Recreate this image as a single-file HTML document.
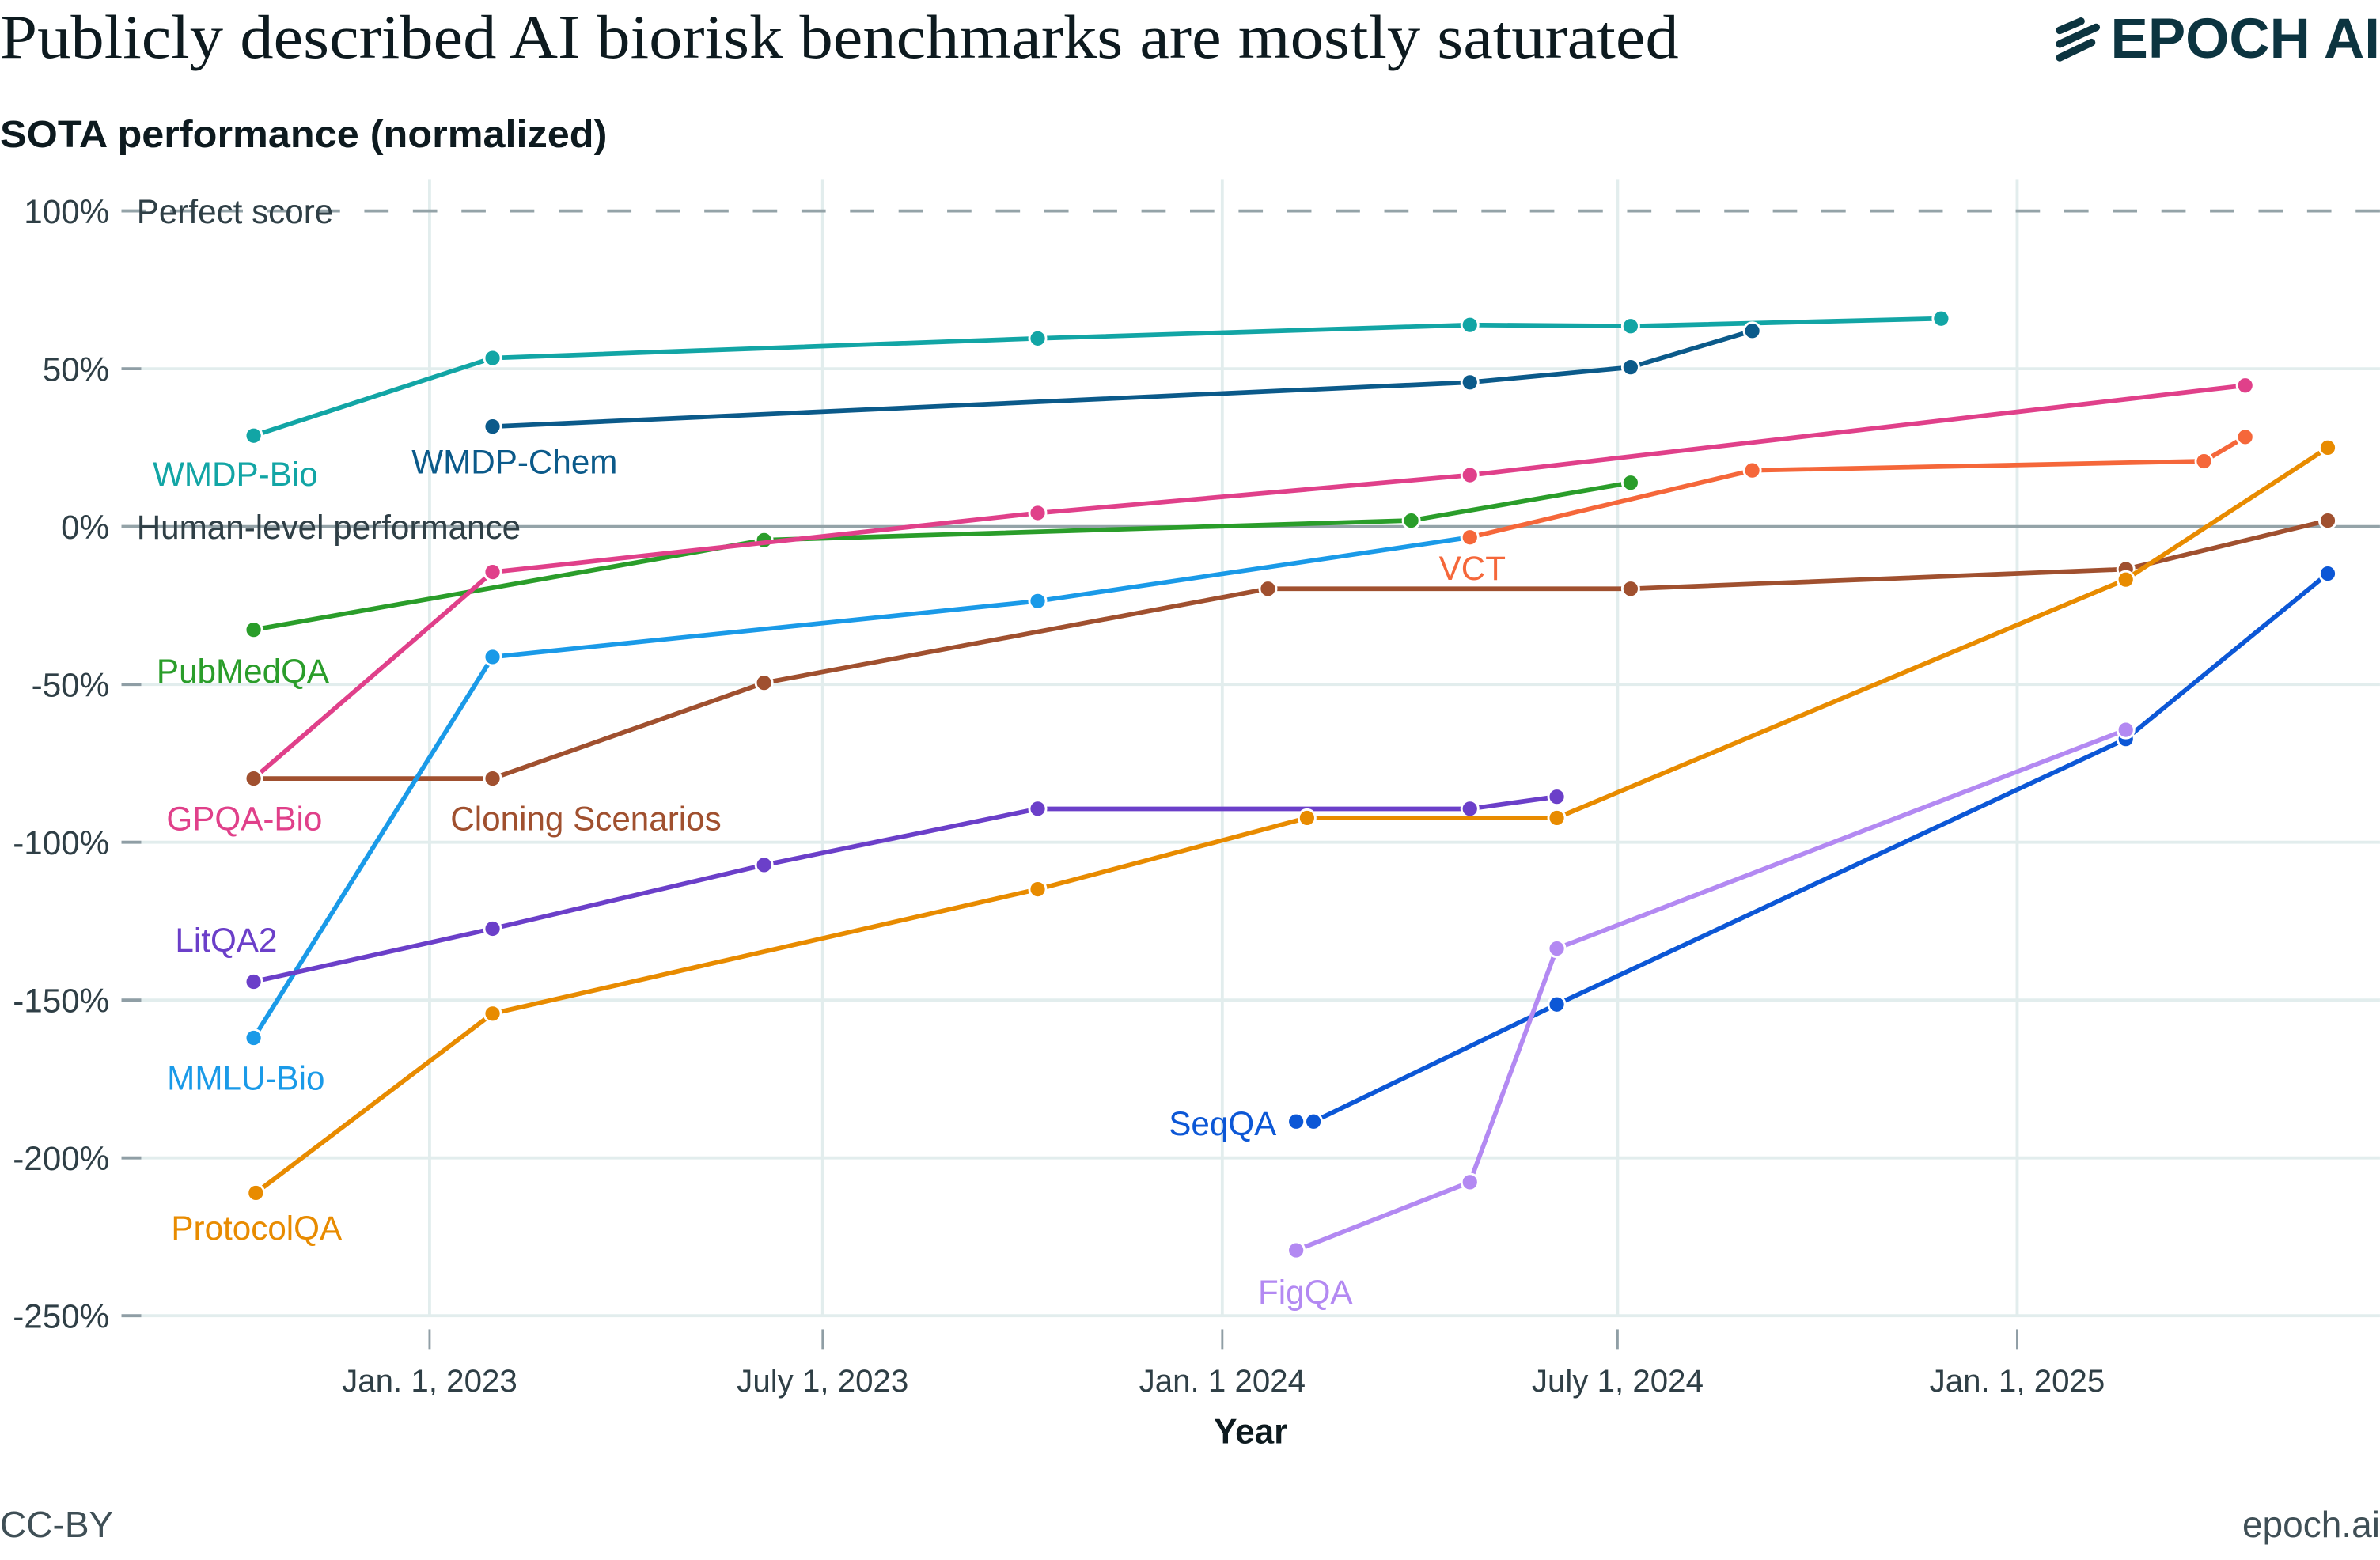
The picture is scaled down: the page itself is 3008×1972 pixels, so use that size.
<!DOCTYPE html>
<html><head><meta charset="utf-8">
<style>
html,body{margin:0;padding:0;background:#fff;}
svg{display:block;}
text{font-family:"Liberation Sans",sans-serif;}
</style></head>
<body>
<svg id="chart" width="3008" height="1972" viewBox="0 0 1568 1028" xmlns="http://www.w3.org/2000/svg">
<text x="0" y="38" style="font-family:'Liberation Serif',serif" font-size="41" textLength="1106" lengthAdjust="spacingAndGlyphs" fill="#0d1a1f">Publicly described AI biorisk benchmarks are mostly saturated</text>
<g>
<g stroke="#0c3440" stroke-width="5" stroke-linecap="round">
<line x1="1357" y1="20" x2="1371" y2="14"/>
<line x1="1357" y1="29" x2="1381" y2="18"/>
<line x1="1357" y1="38" x2="1378" y2="28"/>
</g>
<text x="1568" y="38" text-anchor="end" font-size="37" font-weight="bold" fill="#0c3440">EPOCH AI</text>
</g>
<text x="0" y="97" font-size="25" font-weight="bold" textLength="400" lengthAdjust="spacingAndGlyphs" fill="#0d1a1f">SOTA performance (normalized)</text>
<g id="grid"></g>
<g id="refs"></g>
<g id="series"></g>
<g id="labels"></g>
<text x="824" y="951" text-anchor="middle" font-size="23" font-weight="bold" fill="#0d1a1f">Year</text>
<text x="0" y="1013" font-size="24" fill="#3f4f56">CC-BY</text>
<text x="1568" y="1013" text-anchor="end" font-size="24" fill="#3f4f56">epoch.ai</text>
</svg>
<script>
const yTicks = [100, 50, 0, -50, -100, -150, -200, -250];
const xTickDates = ["2023-01-01", "2023-07-01", "2024-01-01", "2024-07-01", "2025-01-01"];
const xTickLabels = ["Jan. 1, 2023", "July 1, 2023", "Jan. 1 2024", "July 1, 2024", "Jan. 1, 2025"];

const wmdpBioDates = ["2022-10-12","2023-01-30","2023-10-08","2024-04-24","2024-07-07","2024-11-27"];
const wmdpBioVals = [28.8, 53.4, 59.6, 63.9, 63.5, 65.9];
const wmdpChemDates = ["2023-01-30","2024-04-24","2024-07-07","2024-09-01"];
const wmdpChemVals = [31.7, 45.7, 50.5, 62.0];
const gpqaDates = ["2022-10-12","2023-01-30","2023-10-08","2024-04-24","2025-04-16"];
const gpqaVals = [-79.8, -14.4, 4.3, 16.3, 44.7];
const pubmedDates = ["2022-10-12","2023-06-04","2024-03-28","2024-07-07"];
const pubmedVals = [-32.7, -4.3, 1.9, 13.9];
const mmluDates = ["2022-10-12","2023-01-30","2023-10-08","2024-04-24"];
const mmluVals = [-162, -41.3, -23.6, -3.4];
const vctDates = ["2024-04-24","2024-09-01","2025-03-28","2025-04-16"];
const vctVals = [-3.4, 17.8, 20.7, 28.4];
const cloningDates = ["2022-10-12","2023-01-30","2023-06-04","2024-01-22","2024-07-07","2025-02-20","2025-05-24"];
const cloningVals = [-79.8, -79.8, -49.5, -19.7, -19.7, -13.5, 1.9];
const litqaDates = ["2022-10-12","2023-01-30","2023-06-04","2023-10-08","2024-04-24","2024-06-03"];
const litqaVals = [-144.2, -127.4, -107.2, -89.4, -89.4, -85.6];
const protocolDates = ["2022-10-13","2023-01-30","2023-10-08","2024-02-09","2024-06-03","2025-02-20","2025-05-24"];
const protocolVals = [-211.1, -154.3, -114.9, -92.3, -92.3, -16.8, 25.0];
const seqDates = ["2024-02-04","2024-02-12","2024-06-03","2025-02-20","2025-05-24"];
const seqVals = [-188.5, -188.5, -151.4, -67.3, -14.9];
const figDates = ["2024-02-04","2024-04-24","2024-06-03","2025-02-20"];
const figVals = [-229.3, -207.7, -133.7, -64.4];

const NS = "http://www.w3.org/2000/svg";
const T0 = Date.UTC(2023,0,1), T1 = Date.UTC(2025,0,1);
function xScale(d){ const t = Date.parse(d+"T00:00:00Z"); return 283 + (t - T0)/(T1 - T0)*(1329-283); }
function yScale(v){ return 347 - v/50*104; }
function mk(tag, attrs, parent){ const e=document.createElementNS(NS,tag); for(const k in attrs) e.setAttribute(k,attrs[k]); parent.appendChild(e); return e; }

const grid=document.getElementById('grid');
yTicks.forEach(v=>{
  const y=yScale(v);
  if(v!==100 && v!==0){
    const g=mk('line',{x1:80,x2:1568,y1:y,y2:y,stroke:'#e2eded','stroke-width':2},grid);
    
    
  }
  const tk=mk('line',{x1:80,x2:93,y1:y,y2:y,stroke:'#8f9ea5','stroke-width':2},grid);
  
  
  const t=mk('text',{x:72,y:y+8,'text-anchor':'end','font-size':22,fill:'#2f3f46'},grid);
  t.textContent=v+'%';
  
  
});
xTickDates.forEach((d,i)=>{
  const x=xScale(d);
  const g=mk('line',{x1:x,x2:x,y1:118,y2:867,stroke:'#e2eded','stroke-width':2},grid);
  
  
  const tk=mk('line',{x1:x,x2:x,y1:876,y2:889,stroke:'#8f9ea5','stroke-width':1.5},grid);
  
  
  const t=mk('text',{x:x,y:917,'text-anchor':'middle','font-size':21,fill:'#2f3f46'},grid);
  t.textContent=xTickLabels[i];
  
  
});
const refs=document.getElementById('refs');
const pl=mk('line',{x1:80,x2:1568,y1:yScale(100),y2:yScale(100),stroke:'#94a3a8','stroke-width':2,'stroke-dasharray':'16 16'},refs);


const hl=mk('line',{x1:80,x2:1568,y1:yScale(0),y2:yScale(0),stroke:'#94a3a8','stroke-width':2},refs);


const pt=mk('text',{x:90,y:yScale(100)+8,'font-size':22,fill:'#2f3f46'},refs);
pt.textContent='Perfect score';


const ht=mk('text',{x:90,y:yScale(0)+8,'font-size':22,fill:'#2f3f46'},refs);
ht.textContent='Human-level performance';



const seriesList=[
 {name:'wmdp-bio',label:'WMDP-Bio',color:'#12a5a5',dates:wmdpBioDates,vals:wmdpBioVals,lx:155,ly:312,anchor:'middle'},
 {name:'wmdp-chem',label:'WMDP-Chem',color:'#0b5a8a',dates:wmdpChemDates,vals:wmdpChemVals,lx:339,ly:304,anchor:'middle'},
 {name:'pubmedqa',label:'PubMedQA',color:'#2a9d2a',dates:pubmedDates,vals:pubmedVals,lx:160,ly:442,anchor:'middle'},
 {name:'gpqa-bio',label:'GPQA-Bio',color:'#e0408a',dates:gpqaDates,vals:gpqaVals,lx:161,ly:539,anchor:'middle'},
 {name:'cloning-scenarios',label:'Cloning Scenarios',color:'#a0502f',dates:cloningDates,vals:cloningVals,lx:386,ly:539,anchor:'middle'},
 {name:'mmlu-bio',label:'MMLU-Bio',color:'#1a9ae8',dates:mmluDates,vals:mmluVals,lx:162,ly:710,anchor:'middle'},
 {name:'vct',label:'VCT',color:'#f5673a',dates:vctDates,vals:vctVals,lx:970,ly:374,anchor:'middle'},
 {name:'litqa2',label:'LitQA2',color:'#6b3fc9',dates:litqaDates,vals:litqaVals,lx:149,ly:619,anchor:'middle'},
 {name:'protocolqa',label:'ProtocolQA',color:'#e88b00',dates:protocolDates,vals:protocolVals,lx:169,ly:809,anchor:'middle'},
 {name:'seqqa',label:'SeqQA',color:'#0c57d6',dates:seqDates,vals:seqVals,lx:841,ly:740,anchor:'end'},
 {name:'figqa',label:'FigQA',color:'#b389f2',dates:figDates,vals:figVals,lx:860,ly:851,anchor:'middle'}
];
const sg=document.getElementById('series');
const lg=document.getElementById('labels');
seriesList.forEach(s=>{
  const g=mk('g',{},sg);
  
  
  const pts=s.dates.map((d,i)=>xScale(d).toFixed(1)+','+yScale(s.vals[i]).toFixed(1)).join(' ');
  const line=mk('polyline',{points:pts,fill:'none',stroke:s.color,'stroke-width':3,'stroke-linejoin':'round'},g);
  
  
  s.dates.forEach((d,i)=>{
    const c=mk('circle',{cx:xScale(d),cy:yScale(s.vals[i]),r:5.5,fill:s.color,stroke:'#fff','stroke-width':1.5},g);
    
    
  });
  const t=mk('text',{x:s.lx,y:s.ly+8,'text-anchor':s.anchor,'font-size':22,fill:s.color},lg);
  t.textContent=s.label;
  
  
});
</script>
</body></html>
